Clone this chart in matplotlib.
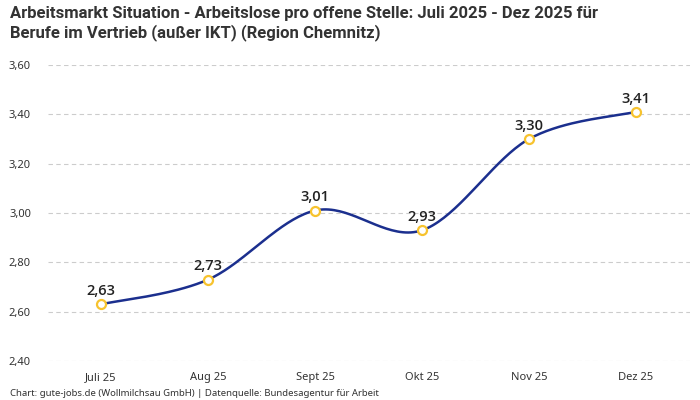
import numpy as np
import matplotlib
matplotlib.use('Agg')
import matplotlib.pyplot as plt
from matplotlib.ticker import FuncFormatter

# Data
months = ['Juli 25', 'Aug 25', 'Sept 25', 'Okt 25', 'Nov 25', 'Dez 25']
values = [2.63, 2.73, 3.01, 2.93, 3.30, 3.41]
y_ticks = [2.40, 2.60, 2.80, 3.00, 3.20, 3.40, 3.60]

title = ('Arbeitsmarkt Situation - Arbeitslose pro offene Stelle: Juli 2025 - Dez 2025 für\n'
         'Berufe im Vertrieb (außer IKT) (Region Chemnitz)')
footer = 'Chart: gute-jobs.de (Wollmilchsau GmbH) | Datenquelle: Bundesagentur für Arbeit'

line_color = '#1b2f8e'
marker_color = '#f7c32e'
body_font = ['Noto Sans', 'DejaVu Sans']


# Catmull-Rom spline through the points for the smooth line
def smooth_curve(x, y, steps=40):
    px = np.concatenate([[x[0]], x, [x[-1]]])
    py = np.concatenate([[y[0]], y, [y[-1]]])
    xs, ys = [], []
    t = np.linspace(0, 1, steps)
    for i in range(1, len(px) - 2):
        p0, p1, p2, p3 = [np.array([px[j], py[j]]) for j in range(i - 1, i + 3)]
        for tt in t:
            pt = 0.5 * ((2 * p1) + (-p0 + p2) * tt +
                        (2 * p0 - 5 * p1 + 4 * p2 - p3) * tt ** 2 +
                        (-p0 + 3 * p1 - 3 * p2 + p3) * tt ** 3)
            xs.append(pt[0])
            ys.append(pt[1])
    return np.array(xs), np.array(ys)


plt.rcParams['font.family'] = body_font

fig = plt.figure(figsize=(7, 4), dpi=100)
ax = fig.add_axes([0.068, 0.0975, 0.917, 0.74])

x = np.arange(len(months))
sx, sy = smooth_curve(x.astype(float), np.array(values))
ax.plot(sx, sy, color=line_color, linewidth=1.8, zorder=3)
ax.scatter(x, values, s=42, facecolor='white', edgecolor=marker_color, linewidth=1.6, zorder=4)

for xi, v in zip(x, values):
    ax.annotate(f'{v:.2f}'.replace('.', ','), (xi, v), xytext=(0, 4.5), textcoords='offset points',
                ha='center', va='bottom', fontsize=10.5, fontweight='semibold', color='#222222',
                family=['Open Sans', 'DejaVu Sans'])

ax.set_xlim(-0.5, len(months) - 0.5)
ax.set_ylim(2.40, 3.60)
ax.set_yticks(y_ticks)
ax.yaxis.set_major_formatter(FuncFormatter(lambda v, p: f'{v:.2f}'.replace('.', ',')))
ax.set_xticks(x)
ax.set_xticklabels(months)
ax.tick_params(axis='both', length=0, labelsize=8, colors='#333333')
ax.tick_params(axis='x', pad=8)
ax.tick_params(axis='y', pad=12)
ax.grid(axis='y', color='#cccccc', linestyle=(0, (4, 3)), linewidth=0.8)
ax.set_axisbelow(True)
for s in ax.spines.values():
    s.set_visible(False)

fig.text(0.014, 0.985, title, ha='left', va='top', fontsize=12, fontweight='bold',
         color='#333333', linespacing=1.25, family=['Roboto', 'DejaVu Sans'])
fig.text(0.014, 0.005, footer, ha='left', va='bottom', fontsize=6.9, color='#333333')

fig.savefig('out.png', dpi=100)
